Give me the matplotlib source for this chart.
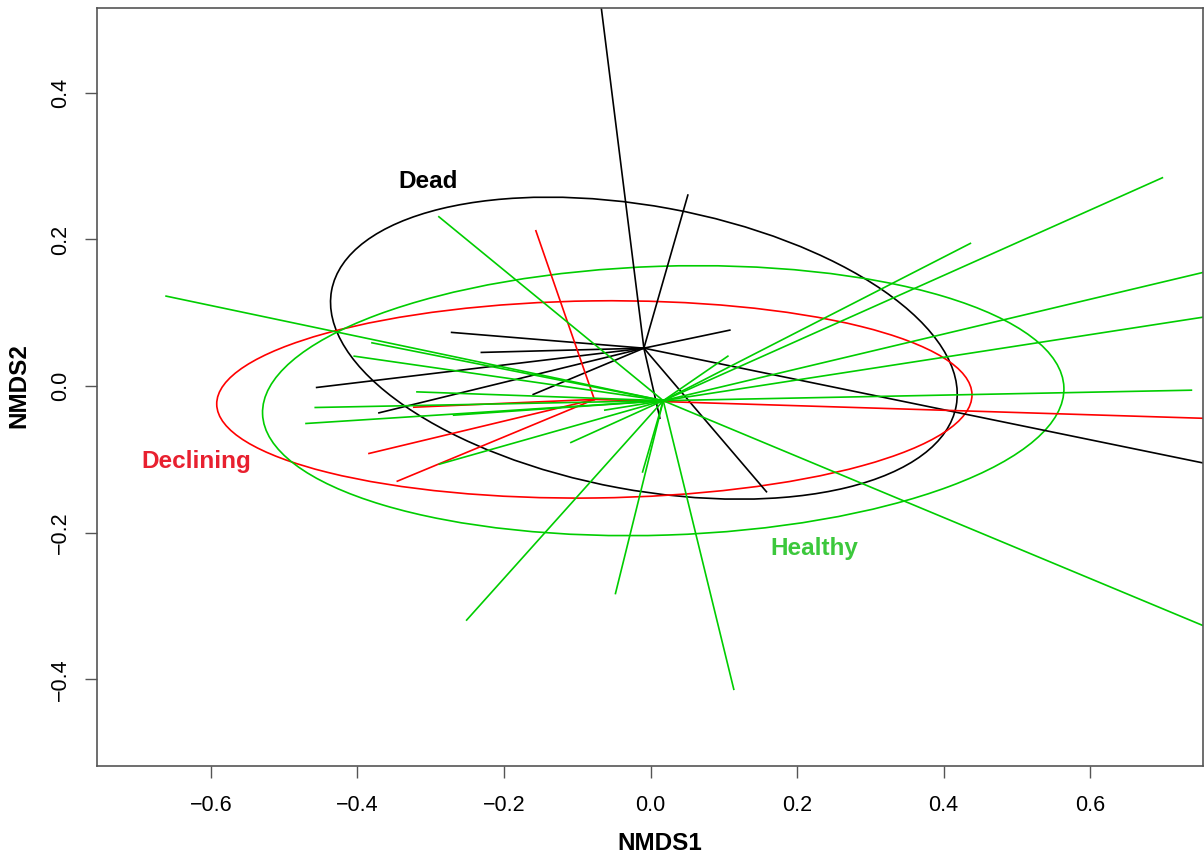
import matplotlib.pyplot as plt
from matplotlib.patches import Ellipse

plt.rcParams['font.family'] = ['Liberation Sans', 'DejaVu Sans']

# --- group centroids (NMDS1, NMDS2) ---
dead_centre = (-0.0091, 0.0518)
declining_centre = (-0.0767, -0.0181)
healthy_centre = (0.0173, -0.0198)

# --- site scores per group (spider end points) ---
dead_x = [-0.069, 0.0509, 0.1082, 0.77, 0.1582, 0.0127, -0.2715, -0.2309, -0.4557, -0.3707, -0.1602]
dead_y = [0.53, 0.2606, 0.0764, -0.108, -0.1440, -0.0437, 0.0733, 0.0460, -0.0018, -0.0364, -0.0113]

declining_x = [-0.1565, 0.76, -0.3843, -0.3456, -0.3231]
declining_y = [0.2119, -0.044, -0.0918, -0.1296, -0.0287]

healthy_x = [-0.6612, -0.2889, 0.4365, 0.6985, 0.76, 0.76, 0.7381, 0.76, 0.1136, -0.0479,
             -0.251, -0.2882, -0.1087, -0.0624, -0.0109, -0.4702, -0.4576, -0.4044, -0.3802,
             -0.3188, -0.2688, 0.1055]
healthy_y = [0.1228, 0.2310, 0.1947, 0.2842, 0.1565, 0.0950, -0.0055, -0.329, -0.4134, -0.2828,
             -0.3190, -0.1064, -0.0768, -0.0327, -0.1170, -0.0509, -0.0291, 0.0409, 0.0591,
             -0.0078, -0.0396, 0.0409]

# --- ellipses: semi-axes and rotation (deg) ---
ell_a = {'Dead': 0.4334, 'Declining': 0.5154, 'Healthy': 0.5471}
ell_b = {'Dead': 0.1935, 'Declining': 0.1344, 'Healthy': 0.1833}
ell_angle = {'Dead': -10.46, 'Declining': 0.73, 'Healthy': 1.89}

# --- group label positions ---
label_pos = {'Dead': (-0.3039, 0.2797), 'Declining': (-0.6203, -0.1023), 'Healthy': (0.2229, -0.2210)}

x_ticks = [-0.6, -0.4, -0.2, 0.0, 0.2, 0.4, 0.6]
y_ticks = [-0.4, -0.2, 0.0, 0.2, 0.4]

groups = {
    'Dead': (dead_centre, dead_x, dead_y),
    'Declining': (declining_centre, declining_x, declining_y),
    'Healthy': (healthy_centre, healthy_x, healthy_y),
}
line_colors = {'Dead': 'black', 'Declining': '#FF0000', 'Healthy': '#00CD00'}
text_colors = {'Dead': 'black', 'Declining': '#E8202F', 'Healthy': '#3CC83C'}

fig = plt.figure(figsize=(12.04, 8.6), dpi=100)
ax = fig.add_axes([0.0806, 0.1093, 0.9183, 0.8814])

for name, (c, xs, ys) in groups.items():
    for x, y in zip(xs, ys):
        ax.plot([c[0], x], [c[1], y], color=line_colors[name], linewidth=1.2)

for name, (c, xs, ys) in groups.items():
    ax.add_patch(Ellipse(c, 2 * ell_a[name], 2 * ell_b[name], angle=ell_angle[name],
                         fill=False, edgecolor=line_colors[name], linewidth=1.2))
    ax.text(*label_pos[name], name, color=text_colors[name], fontsize=17.5,
            fontweight='bold', ha='center', va='center')

ax.set_xlim(-0.7554, 0.7535)
ax.set_ylim(-0.518, 0.5157)

def fmt(v):
    return f'{v:.1f}'.replace('-', '\u2212')

ax.set_xticks(x_ticks)
ax.set_xticklabels([fmt(v) for v in x_ticks], fontsize=15.5)
ax.set_yticks(y_ticks)
ax.set_yticklabels([fmt(v) for v in y_ticks], fontsize=15.5, rotation=90, va='center')
ax.tick_params(length=8.6, width=1, color='#555555', pad=12)
ax.tick_params(axis='y', pad=10)
for s in ax.spines.values():
    s.set_color('#555555')
    s.set_linewidth(1.2)

fig.text(660 / 1204, 1 - 843 / 860, 'NMDS1', fontsize=17.5, fontweight='bold', ha='center', va='center')
fig.text(19 / 1204, 1 - 386 / 860, 'NMDS2', fontsize=17.5, fontweight='bold', ha='center', va='center',
         rotation=90)

fig.savefig('out.png', dpi=100)
